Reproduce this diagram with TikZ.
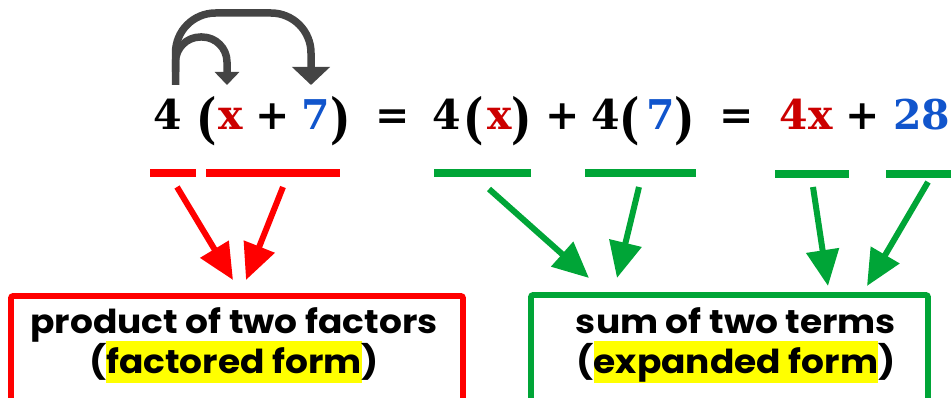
\documentclass[tikz,border=0pt]{standalone}
\usepackage{fontspec}
\usepackage{graphicx}
\usetikzlibrary{arrows.meta}
\newfontfamily\eqfont{DejaVu Serif}
\newfontfamily\labfont[FakeStretch=1.09]{Poppins}
\definecolor{rd}{HTML}{FF0000}
\definecolor{gn}{HTML}{00A537}
\definecolor{xred}{HTML}{CC0000}
\definecolor{sblue}{HTML}{1155CC}
\definecolor{dgray}{HTML}{444444}
\definecolor{hly}{HTML}{FFFF00}
\newcommand{\hlbox}[1]{{\setlength{\fboxsep}{0pt}\colorbox{hly}{\rule[-10pt]{0pt}{42pt}#1}}}
\newcommand{\tallp}[1]{\raisebox{-8pt}{\scalebox{1.05}[1.32]{#1}}}
\begin{document}
\begin{tikzpicture}[x=1pt,y=-1pt,
  eq/.style={anchor=base, inner sep=0pt, font=\eqfont\bfseries\fontsize{41}{41}\selectfont},
  lab/.style={anchor=base, inner sep=0pt, font=\labfont\bfseries\fontsize{33}{33}\selectfont},
  bar/.style={line width=7.3pt},
  conn/.style={line width=6pt, -{Triangle[width=32pt,length=36pt]}},
  frame/.style={line width=5.7pt, rounded corners=2pt},
  curl/.style={draw=dgray, line width=7.5pt}
]
\useasboundingbox (0,0) rectangle (951,398);

% equation tokens
\node[eq] (a4) at (167.5,130) {4};
\node[eq] (alp) at (207,130) {\tallp{(}};
\node[eq, text=xred] (ax) at (231,130) {x};
\node[eq] (aplus) at (273,130) {+};
\node[eq, text=sblue] (a7) at (316,130) {7};
\node[eq] (arp) at (341,130) {\tallp{)}};
\node[eq] (eq1) at (393,130) {=};
\node[eq] (b4) at (447,130) {4};
\node[eq] (blp) at (474,130) {\tallp{(}};
\node[eq, text=xred] (bx) at (500,130) {x};
\node[eq] (brp) at (522,130) {\tallp{)}};
\node[eq] (bplus) at (563,130) {+};
\node[eq] (c4) at (606,130) {4};
\node[eq] (clp) at (630,130) {\tallp{(}};
\node[eq, text=sblue] (c7) at (661,130) {7};
\node[eq] (crp) at (685,130) {\tallp{)}};
\node[eq] (eq2) at (737,130) {=};
\node[eq, text=xred] (d4x) at (806,130) {4x};
\node[eq] (dplus) at (863,130) {+};
\node[eq, text=sblue, anchor=base west] (d28) at (893,130) {28};

% curved arrows
\draw[curl, rounded corners=40pt, -{Triangle[width=37pt,length=18pt]}]
  (175.5,85) -- (175.5,13) -- (311,13) -- (311,85);
\draw[curl, rounded corners=25pt, -{Triangle[width=24pt,length=13pt]}]
  (175.5,72) -- (175.5,37) -- (227,37) -- (227,85);

% underline bars
\draw[bar, rd] (150,173) -- (196,173);
\draw[bar, rd] (206,173) -- (340,173);
\draw[bar, gn] (434,173) -- (531,173);
\draw[bar, gn] (585,173) -- (696,173);
\draw[bar, gn] (775,174) -- (849,174);
\draw[bar, gn] (886,174) -- (955,174);

% boxes
\draw[frame, rd] (11,420) -- (11,296) -- (463,296) -- (463,420);
\draw[frame, gn] (531,420) -- (531,295) -- (928,295) -- (928,420);

% arrow end points
\coordinate (r1s) at (177,187); \coordinate (r1e) at (233,280);
\coordinate (r2s) at (283,187); \coordinate (r2e) at (246,280);
\coordinate (g1s) at (489,189); \coordinate (g1e) at (589,278);
\coordinate (g2s) at (639,187); \coordinate (g2e) at (617,278);
\coordinate (g3s) at (813,187); \coordinate (g3e) at (828,286);
\coordinate (g4s) at (928,182); \coordinate (g4e) at (867,286);

\draw[conn, rd] (r1s) -- (r1e);
\draw[conn, rd] (r2s) -- (r2e);
\draw[conn, gn] (g1s) -- (g1e);
\draw[conn, gn] (g2s) -- (g2e);
\draw[conn, gn] (g3s) -- (g3e);
\draw[conn, gn] (g4s) -- (g4e);

% labels
\node[lab] (l1) at (234,333) {product of two factors};
\node[lab] (l2) at (234,373) {(\hlbox{factored form})};
\node[lab] (l3) at (736,333) {sum of two terms};
\node[lab] (l4) at (736,373) {(\hlbox{expanded form})};
\end{tikzpicture}
\end{document}
